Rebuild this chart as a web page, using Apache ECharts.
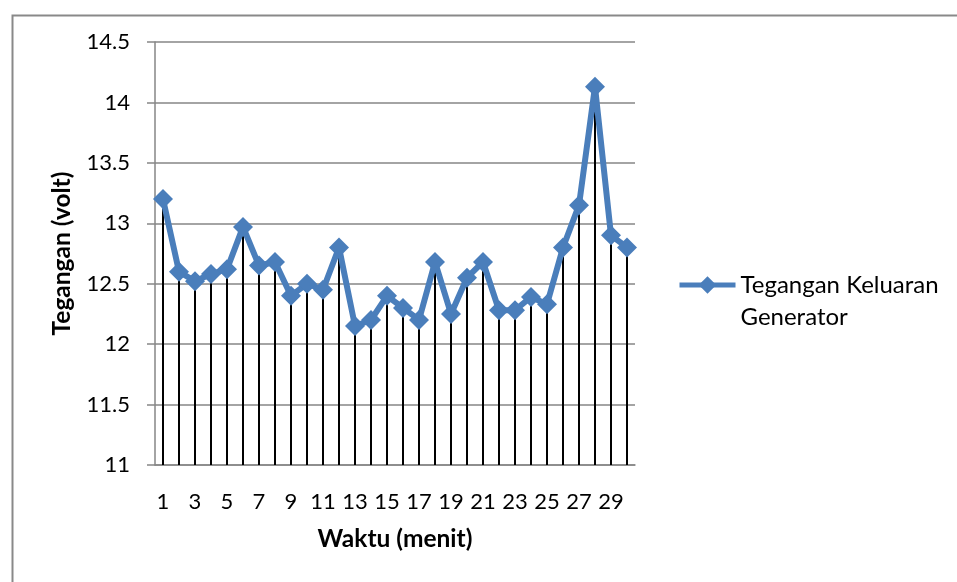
<!DOCTYPE html>
<html>
<head>
<meta charset="utf-8">
<title>Tegangan Keluaran Generator</title>
<script src="https://cdn.jsdelivr.net/npm/echarts@6/dist/echarts.min.js"></script>
<style>
  html, body { margin: 0; padding: 0; background: #ffffff; }
  #chart { width: 957px; height: 582px; }
</style>
</head>
<body>
<div id="chart"></div>
<script>
// Minute index (1..30)
const menit = ['1','2','3','4','5','6','7','8','9','10','11','12','13','14','15',
               '16','17','18','19','20','21','22','23','24','25','26','27','28','29','30'];

// Measured generator output voltage per minute (volt)
const tegangan = [13.20, 12.60, 12.52, 12.58, 12.62, 12.97, 12.65, 12.68, 12.40, 12.50,
                  12.45, 12.80, 12.15, 12.20, 12.40, 12.30, 12.20, 12.68, 12.25, 12.55,
                  12.68, 12.28, 12.28, 12.39, 12.33, 12.80, 13.15, 14.13, 12.90, 12.80];

// Voltage axis range
const yMin = 11;
const yMax = 14.5;
const yStep = 0.5;

const seriesName = 'Tegangan Keluaran Generator';
const FONT = 'Lato';
const LINE_H = 32;

const chart = echarts.init(document.getElementById('chart'), null, { renderer: 'canvas' });

chart.setOption({
  backgroundColor: '#ffffff',
  animation: false,
  textStyle: { fontFamily: FONT, color: '#000' },
  graphic: [{
    type: 'rect',
    left: 10, top: 13,
    shape: { width: 1000, height: 1000 },
    style: { fill: 'none', stroke: '#898989', lineWidth: 2 },
    silent: true
  }],
  grid: { left: 155, right: 322, top: 42, bottom: 117, containLabel: false },
  legend: {
    data: [seriesName],
    left: 677,
    top: 237,
    padding: 0,
    itemWidth: 56,
    itemHeight: 22,
    lineStyle: { width: 5 },
    // blank first line keeps the marker level with the first text line
    formatter: () => ' \nTegangan Keluaran\nGenerator',
    textStyle: {
      fontFamily: FONT, fontSize: 24, color: '#000',
      lineHeight: LINE_H
    }
  },
  xAxis: {
    type: 'category',
    data: menit,
    boundaryGap: true,
    name: 'Waktu (menit)',
    nameLocation: 'middle',
    nameGap: 62,
    nameTextStyle: { fontFamily: FONT, fontSize: 24.5, fontWeight: 'bold', color: '#000' },
    axisLine: { show: true, lineStyle: { color: '#868686', width: 1.5 } },
    axisTick: { show: false },
    axisLabel: { interval: 1, margin: 26, fontSize: 22, color: '#000', fontFamily: FONT },
    splitLine: { show: false }
  },
  yAxis: {
    type: 'value',
    min: yMin,
    max: yMax,
    interval: yStep,
    name: 'Tegangan (volt)',
    nameLocation: 'middle',
    nameGap: 80,
    nameTextStyle: { fontFamily: FONT, fontSize: 24.5, fontWeight: 'bold', color: '#000' },
    axisLine: { show: true, lineStyle: { color: '#868686', width: 1.5 } },
    axisTick: { show: true, inside: false, length: 8, lineStyle: { color: '#868686', width: 1.5 } },
    axisLabel: { margin: 25, fontSize: 22, color: '#000', fontFamily: FONT },
    splitLine: { show: true, lineStyle: { color: '#868686', width: 1.5 } }
  },
  series: [
    {
      // vertical drop lines from each reading down to the axis
      name: 'drop',
      type: 'bar',
      data: tegangan,
      barWidth: 2,
      itemStyle: { color: '#000000' },
      silent: true,
      z: 1
    },
    {
      name: seriesName,
      type: 'line',
      data: tegangan,
      symbol: 'diamond',
      symbolSize: 20,
      showAllSymbol: true,
      lineStyle: { color: '#4a7ebb', width: 6 },
      itemStyle: { color: '#4a7ebb' },
      z: 3
    }
  ]
});
</script>
</body>
</html>
